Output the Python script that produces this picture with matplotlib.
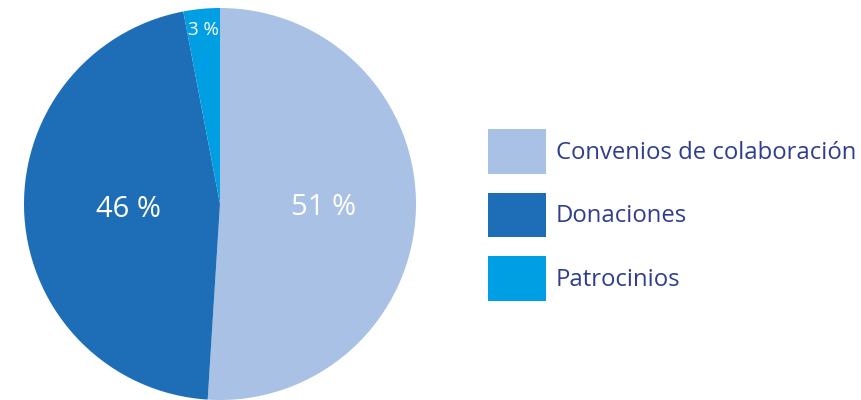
import numpy as np
import matplotlib
matplotlib.use("Agg")
import matplotlib.pyplot as plt

categories = ["Convenios de colaboración", "Donaciones", "Patrocinios"]
shares = [51, 46, 3]
colors = ["#A9C1E5", "#1E6EB7", "#009FE3"]
label_dist = [0.53, 0.47, 0.89]
label_size = [21, 21, 13.5]

plt.rcParams["font.family"] = ["Open Sans", "DejaVu Sans"]

fig = plt.figure(figsize=(8.61, 4.0), dpi=100)
cx, cy, r = 220, 204, 196
ax = fig.add_axes([(cx - r) / 861, (400 - cy - r) / 400, 2 * r / 861, 2 * r / 400])

wedges, _ = ax.pie(shares, colors=colors, startangle=90, counterclock=False,
                   wedgeprops=dict(linewidth=0))
ax.set_xlim(-1, 1)
ax.set_ylim(-1, 1)
ax.set_aspect("equal")
ax.axis("off")

for w, v, d, fs in zip(wedges, shares, label_dist, label_size):
    ang = np.deg2rad((w.theta1 + w.theta2) / 2)
    ax.text(d * np.cos(ang), d * np.sin(ang), f"{v} %", color="white",
            fontsize=fs, ha="center", va="center")

# legend: squares 58x45 px, rows 63.5 px apart
fs = 17.2
fpx = fs * 100 / 72
hh = (45 / fpx - 0.245) / 0.65
leg = fig.legend(wedges, categories, loc="upper left",
                 bbox_to_anchor=(488 / 861, 1 - 129 / 400), bbox_transform=fig.transFigure,
                 frameon=False, fontsize=fs, handlelength=58 / fpx,
                 handleheight=hh, labelspacing=18.5 / fpx,
                 handletextpad=0.4, borderpad=0, borderaxespad=0)
for t in leg.get_texts():
    t.set_color("#2F3D8E")

fig.savefig("out.png", dpi=100)
